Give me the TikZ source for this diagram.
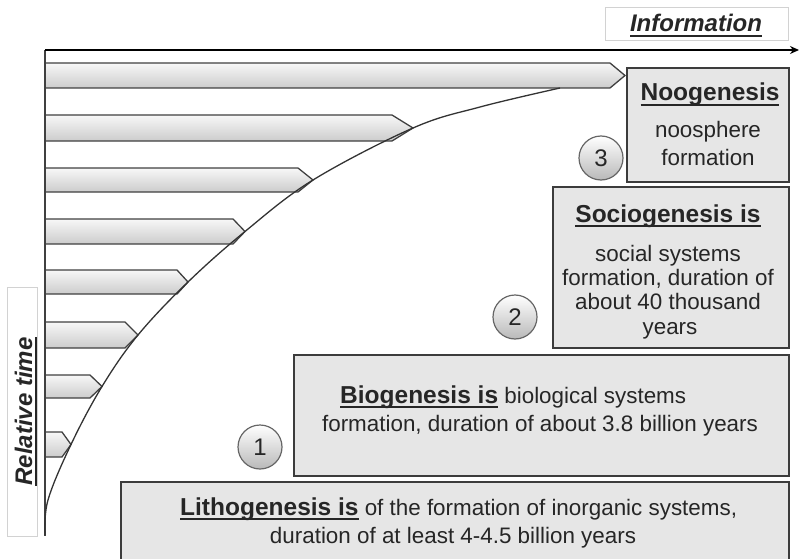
\documentclass[tikz,border=0pt]{standalone}
\usepackage{fontspec}
\setmainfont{Liberation Sans}
\usetikzlibrary{arrows.meta}
\definecolor{txt}{HTML}{262626}
\definecolor{boxfill}{HTML}{E6E6E6}
\definecolor{boxline}{HTML}{3C3C3C}
\newsavebox{\hdbox}
\newcommand{\hdul}[1]{\sbox{\hdbox}{#1}\rlap{\rule[-5pt]{\wd\hdbox}{2.2pt}}\usebox{\hdbox}}
\newcommand{\bodyf}{\fontsize{22.4}{26}\selectfont}
\newcommand{\headf}{\fontsize{24.5}{28}\selectfont\bfseries}
\begin{document}
\begin{tikzpicture}[x=1pt,y=-1pt,
  panel/.style={draw=boxline, line width=1.5pt, fill=boxfill, inner sep=0pt},
  lblbox/.style={draw=gray!35, line width=0.8pt, fill=white, inner sep=0pt},
  bar/.style={draw=black!75, line width=1.3pt, top color=gray!6, bottom color=gray!40},
  num/.style={circle, minimum size=44pt, inner sep=0pt, draw=black!60, line width=1.2pt,
              top color=white, bottom color=gray!55, font=\fontsize{24}{24}\selectfont, text=txt},
  tl/.style={anchor=base, inner sep=0pt, text=txt, font=\bodyf},
  hd/.style={anchor=base, inner sep=0pt, text=txt, font=\headf},
  axlbl/.style={anchor=base, inner sep=0pt, text=txt, font=\fontsize{24}{24}\selectfont\bfseries\itshape}]
\useasboundingbox (0,0) rectangle (800,559);

% bars
\foreach \i/\a/\b/\s/\t in {1/63/88/610/625, 2/115/141/392/413, 3/168/192/298/313,
  4/219/244/233/245, 5/270/294/177/188, 6/322/348/125/138, 7/375/398/90/102, 8/432/457/62/71}{
  \draw[bar] (45,\a) -- (\s,\a) -- (\t,{(\a+\b)/2}) -- (\s,\b) -- (45,\b) -- cycle;
  \coordinate (tip\i) at (\t,{(\a+\b)/2});
}

% axes
\coordinate (O) at (45,50);
\coordinate (Xend) at (799,50);
\coordinate (Yend) at (45,536);
\draw[line width=1.8pt, black!75] (O) -- (Yend);
\draw[line width=2.4pt, -{Stealth[length=9pt,width=8pt]}] (O) -- (Xend);

% curve
\coordinate (c0) at (45,535);
\coordinate (cend) at (560,88);
\draw[line width=1.3pt, black!80] plot[smooth, tension=0.6] coordinates
  {(c0) (48,500) (tip8) (tip7) (tip6) (tip5) (tip4) (tip3) (tip2) (480,107) (cend)};

% axis labels
\node[lblbox, minimum width=183pt, minimum height=33pt] (infobox) at (696.5,23.5) {};
\node[axlbl] (info) at (696,32) {\hdul{Information}};
\node[lblbox, minimum width=30pt, minimum height=249pt] (rtbox) at (22,411.5) {};
\node[axlbl, rotate=90] (rt) at (32,411.5) {\hdul{Relative time}};

% panels
\node[panel, minimum width=668pt, minimum height=88pt] (litho) at (455,526) {};
\node[panel, minimum width=495pt, minimum height=121pt] (bio) at (541.5,415.5) {};
\node[panel, minimum width=236pt, minimum height=161pt] (socio) at (671,267.5) {};
\node[panel, minimum width=162pt, minimum height=114pt] (noo) at (708,125) {};

% noogenesis
\node[hd] (noo1) at (710,101) {\hdul{Noogenesis}};
\node[tl] (noo2) at (708,137) {noosphere};
\node[tl] (noo3) at (708,165) {formation};

% sociogenesis
\node[hd] (soc1) at (668,222) {\hdul{Sociogenesis is}};
\node[tl] (soc2) at (668,261) {social systems};
\node[tl] (soc3) at (668,285) {formation, duration of};
\node[tl] (soc4) at (668,309) {about 40 thousand};
\node[tl] (soc5) at (670,334) {years};

% biogenesis
\node[tl, anchor=base west] (bio1) at (340,403) {{\headf\hdul{Biogenesis is}} biological systems};
\node[tl] (bio2) at (540,431) {formation, duration of about 3.8 billion years};

% lithogenesis
\node[tl, anchor=base west] (lit1) at (180,515) {{\headf\hdul{Lithogenesis is}} of the formation of inorganic systems,};
\node[tl] (lit2) at (453,543) {duration of at least 4-4.5 billion years};

% numbers
\node[num] (n1) at (260,447) {1};
\node[num] (n2) at (515,317) {2};
\node[num] (n3) at (601,158) {3};
\end{tikzpicture}
\end{document}
